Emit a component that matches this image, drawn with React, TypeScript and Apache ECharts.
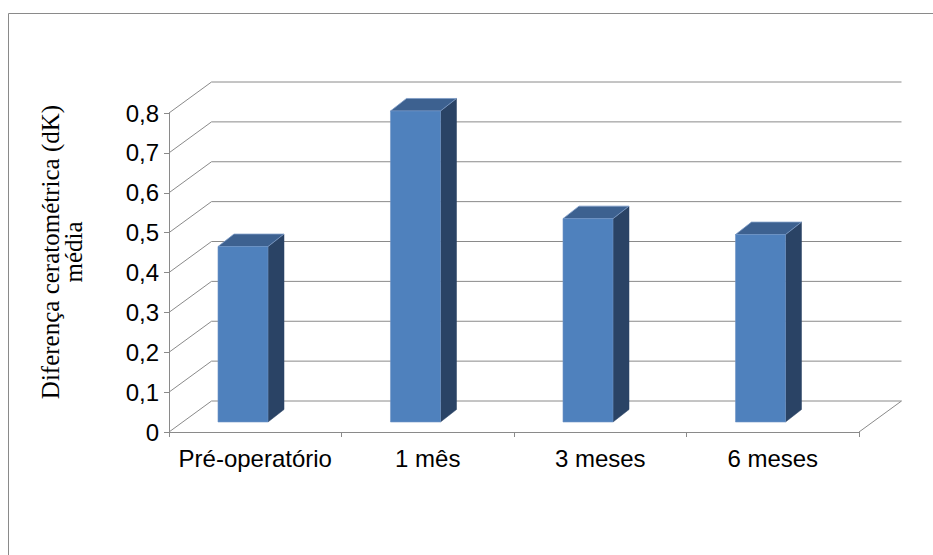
import React, { useEffect, useRef } from "react";
import * as echarts from "echarts";

const categories = ["Pré-operatório", "1 mês", "3 meses", "6 meses"];
const meanDiff = [0.44, 0.78, 0.51, 0.47];
const yTicks = [0, 0.1, 0.2, 0.3, 0.4, 0.5, 0.6, 0.7, 0.8];
const yTitle = "Diferença ceratométrica (dK)\nmédia";

const WALL_DX = 42.5;
const WALL_DY = -31;
const BAR_SHIFT_Y = -10;
const BAR_DX = 16;
const BAR_DY = -12.5;
const GRID_COLOR = "#8a8a8a";

export default function App() {
  const ref = useRef<HTMLDivElement>(null);
  useEffect(() => {
    if (!ref.current) return;
    const chart = echarts.init(ref.current, null, { renderer: "svg" });
    const option: any = {
      animation: false,
      backgroundColor: "#ffffff",
      grid: { left: 169, top: 113, width: 690, height: 319, containLabel: false },
      xAxis: {
        type: "category",
        data: categories,
        boundaryGap: true,
        axisLine: { show: true, lineStyle: { color: GRID_COLOR, width: 1 } },
        axisTick: { show: true, length: 5, interval: 0, lineStyle: { color: GRID_COLOR } },
        axisLabel: {
          color: "#000",
          fontSize: 24,
          interval: 0,
          fontFamily: "Liberation Sans, Arial, sans-serif",
          margin: 14,
        },
        splitLine: { show: false },
      },
      yAxis: {
        type: "value",
        min: 0,
        max: 0.8,
        interval: 0.1,
        axisLine: { show: true, lineStyle: { color: GRID_COLOR, width: 1 } },
        axisTick: { show: true, length: 5, lineStyle: { color: GRID_COLOR } },
        axisLabel: {
          color: "#000",
          fontSize: 24,
          fontFamily: "Liberation Sans, Arial, sans-serif",
          margin: 10,
          formatter: (v: number) => (v === 0 ? "0" : v.toFixed(1).replace(".", ",")),
        },
        splitLine: { show: false },
      },
      graphic: [
        {
          type: "rect",
          shape: { x: 8.5, y: 13.5, width: 2000, height: 2000 },
          style: { fill: "none", stroke: "#8a8a8a", lineWidth: 1 },
          silent: true,
          z: -10,
        },
        {
          type: "text",
          x: 62,
          y: 252,
          rotation: Math.PI / 2,
          style: {
            text: yTitle,
            fontSize: 25,
            lineHeight: 23,
            fontFamily: "Liberation Serif, Times New Roman, serif",
            fill: "#000",
            align: "center",
            verticalAlign: "middle",
          },
        },
      ],
      series: [
        {
          type: "custom",
          z: 1,
          silent: true,
          clip: false,
          data: yTicks.map((v) => [0, v]),
          renderItem: (params: any, api: any) => {
            const cs = params.coordSys;
            const v = api.value(1);
            const y = api.coord([0, v])[1];
            const x0 = cs.x;
            const x1 = cs.x + cs.width;
            const children: any[] = [
              {
                type: "polyline",
                shape: {
                  points: [
                    [x0, y],
                    [x0 + WALL_DX, y + WALL_DY],
                    [x1 + WALL_DX, y + WALL_DY],
                  ],
                },
                style: { stroke: GRID_COLOR, lineWidth: 1, fill: "none" },
              },
            ];
            if (v === 0) {
              children.push({
                type: "line",
                shape: { x1: x1, y1: y, x2: x1 + WALL_DX, y2: y + WALL_DY },
                style: { stroke: GRID_COLOR, lineWidth: 1 },
              });
            }
            return { type: "group", children };
          },
        },
        {
          type: "custom",
          z: 5,
          clip: false,
          data: meanDiff.map((v, i) => [i, v]),
          renderItem: (params: any, api: any) => {
            const i = api.value(0);
            const v = api.value(1);
            const [cx, yTop] = api.coord([i, v]);
            const y0 = api.coord([i, 0])[1];
            const band = api.size([1, 0])[0];
            const w = band * 0.29;
            const left = cx - band * 0.216;
            const top = yTop + BAR_SHIFT_Y;
            const bottom = y0 + BAR_SHIFT_Y;
            return {
              type: "group",
              children: [
                {
                  type: "polygon",
                  shape: {
                    points: [
                      [left + w, top],
                      [left + w + BAR_DX, top + BAR_DY],
                      [left + w + BAR_DX, bottom + BAR_DY],
                      [left + w, bottom],
                    ],
                  },
                  style: { fill: "#2a4365", stroke: "#2a4365", lineWidth: 0.5 },
                },
                {
                  type: "polygon",
                  shape: {
                    points: [
                      [left, top],
                      [left + w, top],
                      [left + w + BAR_DX, top + BAR_DY],
                      [left + BAR_DX, top + BAR_DY],
                    ],
                  },
                  style: { fill: "#3d6190", stroke: "#7d9cc6", lineWidth: 0.8 },
                },
                {
                  type: "rect",
                  shape: { x: left, y: top, width: w, height: bottom - top },
                  style: { fill: "#4f81bd", stroke: "#6f94c6", lineWidth: 0.6 },
                },
              ],
            };
          },
        },
      ],
    };
    chart.setOption(option);
    return () => chart.dispose();
  }, []);
  return (
    <div
      ref={ref}
      style={{ position: "fixed", left: 0, top: 0, width: 933, height: 555 }}
    />
  );
}
